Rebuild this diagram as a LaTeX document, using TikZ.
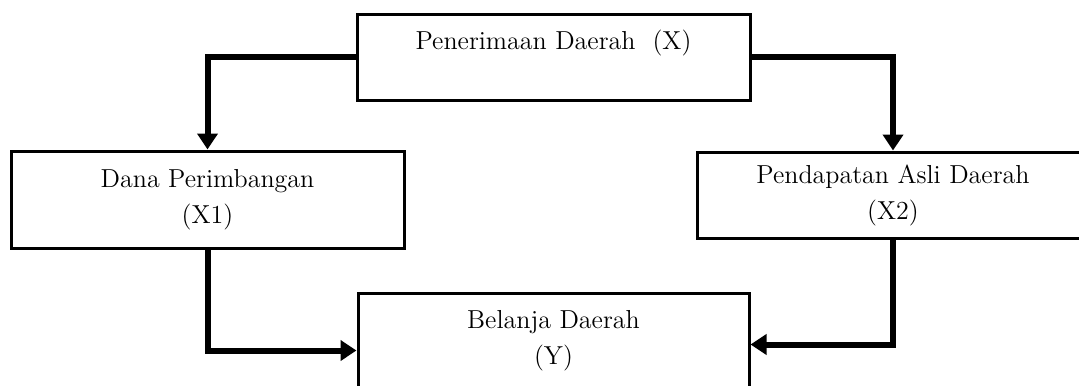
\documentclass[tikz,border=0pt]{standalone}
\usepackage{tikz}
\usetikzlibrary{arrows.meta}

\begin{document}
\begin{tikzpicture}[x=0.5pt, y=-0.5pt,
    box/.style={draw, line width=1.5pt, align=center, inner sep=0pt,
        font=\fontsize{13}{18}\selectfont},
    conn/.style={line width=3pt, -{Triangle[length=8pt, width=10pt]}}]
    % Picture frame
    \useasboundingbox (0, 0) rectangle (1079, 385);
    \clip (0, 0) rectangle (1079, 385);

    % Boxes
    \node[box, minimum width=196.5pt, minimum height=42.5pt] (penerimaan) at (553.5, 57.5) {Penerimaan Daerah\ \ (X)\\ \mbox{}};
    \node[box, minimum width=196.5pt, minimum height=48.5pt] (dana) at (207.5, 199.5) {Dana Perimbangan\\(X1)};
    \node[box, minimum width=196pt, minimum height=43pt] (pendapatan) at (893, 195) {Pendapatan Asli Daerah\\(X2)};
    \node[box, minimum width=195.5pt, minimum height=47.5pt] (belanja) at (553.5, 340.5) {Belanja Daerah\\(Y)};

    % Entry points on Belanja Daerah
    \coordinate (inL) at ([yshift=-5pt]belanja.west);
    \coordinate (inR) at ([yshift=-2pt]belanja.east);

    % Connectors
    \draw[conn] (penerimaan.west) -| (dana.north);
    \draw[conn] (penerimaan.east) -| (pendapatan.north);
    \draw[conn] (dana.south) |- (inL);
    \draw[conn] (pendapatan.south) |- (inR);
\end{tikzpicture}
\end{document}
